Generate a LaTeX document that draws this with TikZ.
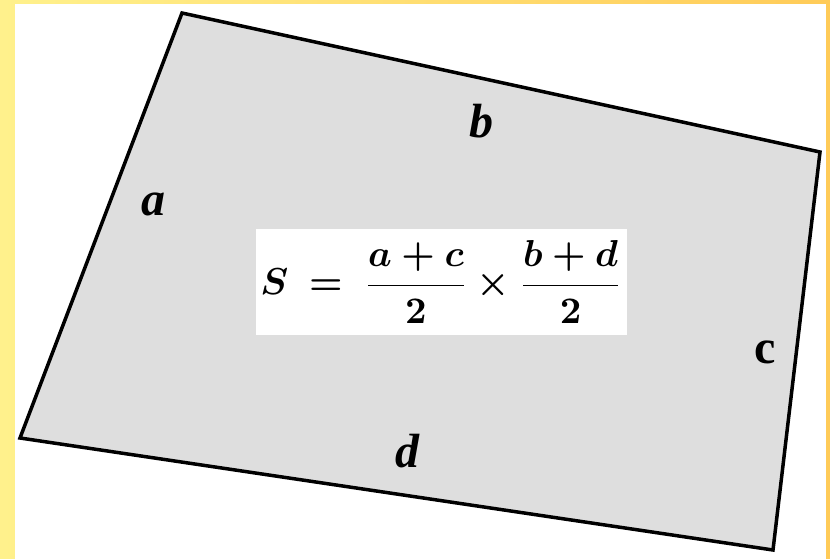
\documentclass[tikz,border=0pt]{standalone}
\usepackage{amsmath,bm}
\usepackage{fontspec}
\newfontfamily\labelfont{Liberation Serif}
\usetikzlibrary{positioning}

\definecolor{paleyellow}{HTML}{FFF18C}
\definecolor{deepyellow}{HTML}{FFCB58}
\definecolor{quadgray}{HTML}{DEDEDE}

\begin{document}
\begin{tikzpicture}[x=1pt, y=-1pt,
    side/.style={draw=black, line width=3.5pt, line join=miter, fill=quadgray},
    sidelabel/.style={anchor=base, inner sep=0pt, font=\labelfont\bfseries\itshape\fontsize{48}{56}\selectfont},
    formulabox/.style={fill=white, inner sep=0pt, minimum width=371pt, minimum height=106pt}
  ]
    % background and white sheet
    \useasboundingbox (0,0) rectangle (830,559);
    \shade[left color=paleyellow, right color=deepyellow] (0,0) rectangle (830,559);
    \fill[white] (15,4) rectangle (826,559);

    % corners of the quadrilateral
    \coordinate (A) at (182,13);
    \coordinate (B) at (820,152);
    \coordinate (C) at (773,550);
    \coordinate (D) at (20,438);
    \draw[side] (A) -- (B) -- (C) -- (D) -- cycle;

    % side names
    \node[sidelabel] (la) at (153,215) {a};
    \node[sidelabel] (lb) at (481,138) {b};
    \node[sidelabel, font=\labelfont\bfseries\fontsize{48}{56}\selectfont] (lc) at (765,363) {c};
    \node[sidelabel] (ld) at (407,467) {d};

    % area formula
    \node[formulabox] (area) at (441.5,282) {};
    \node (formula) at (area.center)
      {\scalebox{3.75}{$\bm{S \;=\; \dfrac{a+c}{2} \times \dfrac{b+d}{2}}$}};
\end{tikzpicture}
\end{document}
